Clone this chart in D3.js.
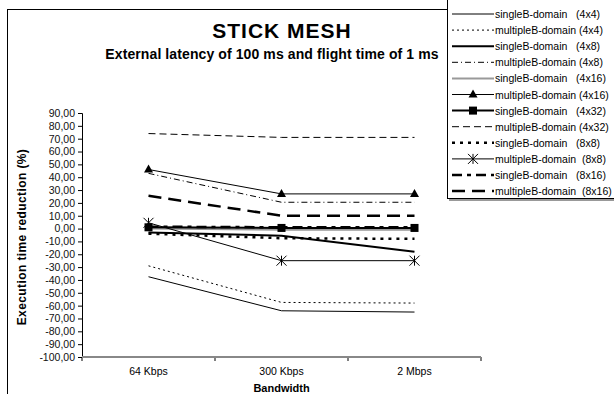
<!DOCTYPE html>
<html>
<head>
<meta charset="utf-8">
<script src="https://cdn.jsdelivr.net/npm/d3@7"></script>
<style>
  body { margin: 0; background: #fff; }
  svg { display: block; font-family: "Liberation Sans", Arial, sans-serif; }
</style>
</head>
<body>
<script>
const bandwidths = ["64 Kbps", "300 Kbps", "2 Mbps"];
const yTicks = [90, 80, 70, 60, 50, 40, 30, 20, 10, 0, -10, -20, -30, -40, -50, -60, -70, -80, -90, -100];

const seriesNames = [
    "singleB-domain   (4x4)", "multipleB-domain (4x4)",
    "singleB-domain   (4x8)", "multipleB-domain (4x8)",
    "singleB-domain   (4x16)", "multipleB-domain (4x16)",
    "singleB-domain   (4x32)", "multipleB-domain (4x32)",
    "singleB-domain   (8x8)", "multipleB-domain  (8x8)",
    "singleB-domain   (8x16)", "multipleB-domain  (8x16)"
];

const single4x4 = [-37.5, -64, -65];
const multiple4x4 = [-29, -57.5, -58];
const single4x8 = [-3, -5.5, -18];
const multiple4x8 = [43, 20.5, 20.5];
const single4x16 = [0, -1, -1];
const multiple4x16 = [46, 27, 27];
const single4x32 = [1, 0.5, 0.5];
const multiple4x32 = [74, 71, 71];
const single8x8 = [-4, -7.5, -8];
const multiple8x8 = [4.5, -25, -25];
const single8x16 = [1.5, 1, 1];
const multiple8x16 = [25.5, 10, 10];

// line style per series: color, width, dash, marker
const styles = [
    { color: "#000", width: 1, dash: null, marker: null },
    { color: "#000", width: 1, dash: "2,3", marker: null },
    { color: "#000", width: 2, dash: null, marker: null },
    { color: "#000", width: 1, dash: "6,3,1,3", marker: null },
    { color: "#999", width: 2, dash: null, marker: null },
    { color: "#000", width: 1, dash: null, marker: "triangle" },
    { color: "#000", width: 2, dash: null, marker: "square" },
    { color: "#000", width: 1, dash: "7,4", marker: null },
    { color: "#000", width: 2.5, dash: "3,5", marker: null },
    { color: "#000", width: 1, dash: null, marker: "star" },
    { color: "#000", width: 2.5, dash: "10,5,4,5", marker: null },
    { color: "#000", width: 2.5, dash: "13,7", marker: null }
];

const values = [single4x4, multiple4x4, single4x8, multiple4x8, single4x16, multiple4x16,
    single4x32, multiple4x32, single8x8, multiple8x8, single8x16, multiple8x16];

const series = seriesNames.map((name, i) => ({ name, values: values[i], style: styles[i] }));

const width = 614, height = 394;
const svg = d3.select("body").append("svg").attr("width", width).attr("height", height);

// outer chart frame (runs off the right and bottom)
svg.append("rect")
    .attr("x", 7.5).attr("y", 9.5)
    .attr("width", 700).attr("height", 500)
    .attr("fill", "none").attr("stroke", "#000").attr("stroke-width", 1);

const plotLeft = 82, plotRight = 481, plotTop = 113, plotBottom = 357;

const x = d3.scaleBand(bandwidths, [plotLeft, plotRight]);
const xCenter = d => x(d) + x.bandwidth() / 2;
const y = d3.scaleLinear([-100, 90], [plotBottom, plotTop]);

// title
svg.append("text")
    .attr("x", 282).attr("y", 38)
    .attr("text-anchor", "middle")
    .style("font-size", "21px").style("font-weight", "bold")
    .style("letter-spacing", "1px")
    .text("STICK MESH");
svg.append("text")
    .attr("x", 272).attr("y", 59)
    .attr("text-anchor", "middle")
    .style("font-size", "14px").style("font-weight", "bold")
    .style("letter-spacing", "0.1px")
    .text("External latency of 100 ms and flight time of 1 ms");

// y axis
const yAxis = svg.append("g")
    .attr("transform", `translate(${plotLeft},0)`)
    .call(d3.axisLeft(y).tickValues(yTicks).tickSize(4).tickPadding(3)
        .tickFormat(d => d3.format(".2f")(d).replace(".", ",").replace("−", "-")));
yAxis.select(".domain").attr("stroke", "#000");
yAxis.selectAll("text").style("font-size", "10.5px").attr("fill", "#111")
    .style("font-family", "'Liberation Sans', Arial, sans-serif");

svg.append("text")
    .attr("transform", `translate(26,${(plotTop + plotBottom) / 2 + 2}) rotate(-90)`)
    .attr("text-anchor", "middle")
    .style("font-size", "12px").style("font-weight", "bold")
    .style("letter-spacing", "0.4px")
    .text("Execution time reduction (%)");

// x axis: gray base line, ticks at category boundaries
const xEdges = bandwidths.map(d => x(d)).concat([x(bandwidths[bandwidths.length - 1]) + x.bandwidth()]);
svg.selectAll("line.xtick").data(xEdges).enter().append("line")
    .attr("class", "xtick")
    .attr("x1", d => d).attr("x2", d => d)
    .attr("y1", plotBottom).attr("y2", plotBottom + 4)
    .attr("stroke", "#000");
svg.append("line")
    .attr("x1", plotLeft).attr("x2", plotRight)
    .attr("y1", plotBottom).attr("y2", plotBottom)
    .attr("stroke", "#888").attr("stroke-width", 2);
svg.selectAll("text.xlabel").data(bandwidths).enter().append("text")
    .attr("class", "xlabel")
    .attr("x", xCenter).attr("y", plotBottom + 18)
    .attr("text-anchor", "middle")
    .style("font-size", "10.5px")
    .text(d => d);
svg.append("text")
    .attr("x", xCenter(bandwidths[1])).attr("y", plotBottom + 35)
    .attr("text-anchor", "middle")
    .style("font-size", "11px").style("font-weight", "bold")
    .text("Bandwidth");

// series lines
const line = d3.line().x((d, i) => xCenter(bandwidths[i])).y(d => y(d));

function drawMarker(g, type, cx, cy) {
    if (type === "triangle") {
        g.append("path").attr("d", `M${cx},${cy - 5}L${cx + 4.5},${cy + 3}L${cx - 4.5},${cy + 3}Z`).attr("fill", "#000");
    } else if (type === "square") {
        g.append("rect").attr("x", cx - 4).attr("y", cy - 4).attr("width", 8).attr("height", 8).attr("fill", "#000");
    } else if (type === "star") {
        const r = 5;
        g.append("path")
            .attr("d", `M${cx - r},${cy - r}L${cx + r},${cy + r}M${cx + r},${cy - r}L${cx - r},${cy + r}M${cx},${cy - r}L${cx},${cy + r}`)
            .attr("stroke", "#000").attr("stroke-width", 1);
    }
}

const plot = svg.append("g");
series.forEach(s => {
    plot.append("path")
        .datum(s.values)
        .attr("d", line)
        .attr("fill", "none")
        .attr("stroke", s.style.color)
        .attr("stroke-width", s.style.width)
        .attr("stroke-dasharray", s.style.dash);
    if (s.style.marker) {
        s.values.forEach((v, i) => drawMarker(plot, s.style.marker, xCenter(bandwidths[i]), y(v)));
    }
});

// legend
const legendX = 447, legendY = -2, rowH = 16.1;
const legend = svg.append("g");
legend.append("rect")
    .attr("x", legendX + 2).attr("y", legendY + 2)
    .attr("width", 170).attr("height", 201)
    .attr("fill", "#999");
legend.append("rect")
    .attr("x", legendX + 0.5).attr("y", legendY + 0.5)
    .attr("width", 170).attr("height", 200)
    .attr("fill", "#fff").attr("stroke", "#000");

series.forEach((s, i) => {
    const ry = 14 + i * rowH;
    const row = legend.append("g");
    row.append("line")
        .attr("x1", 452).attr("x2", 494)
        .attr("y1", ry).attr("y2", ry)
        .attr("stroke", s.style.color)
        .attr("stroke-width", s.style.width)
        .attr("stroke-dasharray", s.style.dash);
    if (s.style.marker) drawMarker(row, s.style.marker, 473, ry);
    row.append("text")
        .attr("x", 495).attr("y", ry + 4)
        .style("font-size", "10.5px")
        .style("white-space", "pre")
        .attr("xml:space", "preserve")
        .text(s.name);
});
</script>
</body>
</html>
